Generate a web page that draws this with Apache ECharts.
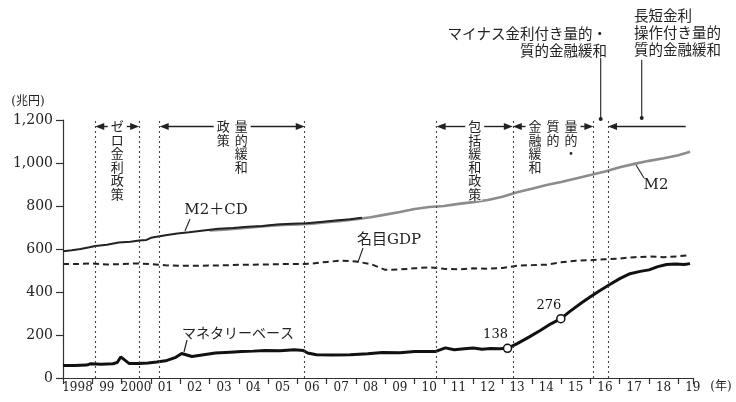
<!DOCTYPE html>
<html>
<head>
<meta charset="utf-8">
<script src="https://cdn.jsdelivr.net/npm/echarts@6/dist/echarts.min.js"></script>
<style>
  html, body { margin: 0; padding: 0; background: #fff; }
  #chart { width: 736px; height: 402px; }
</style>
</head>
<body>
<div id="chart"></div>
<script>
// ---- data: [year, trillion yen] ----
const m2cd = [
  [1998.0, 590], [1998.3, 594], [1998.6, 600], [1998.9, 608], [1999.1, 614], [1999.5, 620],
  [1999.9, 630], [2000.3, 634], [2000.6, 640], [2000.85, 642], [2001.0, 652], [2001.2, 657],
  [2001.5, 664], [2001.9, 672], [2002.3, 678], [2002.8, 686], [2003.3, 694], [2003.8, 698],
  [2004.3, 703], [2004.8, 707], [2005.3, 714], [2005.8, 718], [2006.3, 720], [2006.8, 726],
  [2007.3, 732], [2007.8, 738], [2008.2, 745]
];
const m2 = [
  [2003.0, 686], [2003.5, 690], [2004.0, 696], [2004.5, 701], [2005.0, 707], [2005.5, 712],
  [2006.0, 714], [2006.5, 718], [2007.0, 725], [2007.5, 731], [2008.0, 738], [2008.5, 748],
  [2009.0, 760], [2009.5, 772], [2010.0, 786], [2010.5, 795], [2011.0, 800], [2011.5, 810],
  [2012.0, 818], [2012.5, 828], [2013.0, 843], [2013.5, 864], [2014.0, 880], [2014.5, 898],
  [2015.0, 912], [2015.5, 928], [2016.0, 944], [2016.5, 960], [2017.0, 980], [2017.5, 996],
  [2018.0, 1010], [2018.5, 1022], [2019.0, 1036], [2019.4, 1052]
];
const nominalGdp = [
  [1998.0, 530], [1998.5, 530], [1999.0, 533], [1999.5, 528], [2000.0, 530], [2000.5, 533],
  [2001.0, 530], [2001.5, 524], [2002.0, 522], [2002.5, 522], [2003.0, 523], [2003.5, 524],
  [2004.0, 527], [2004.5, 527], [2005.0, 528], [2005.5, 530], [2006.0, 530], [2006.5, 532],
  [2007.0, 540], [2007.5, 546], [2008.0, 542], [2008.5, 530], [2009.0, 503], [2009.5, 505],
  [2010.0, 510], [2010.5, 515], [2011.0, 508], [2011.5, 505], [2012.0, 510], [2012.5, 508],
  [2013.0, 512], [2013.5, 522], [2014.0, 525], [2014.5, 527], [2015.0, 538], [2015.5, 545],
  [2016.0, 548], [2016.5, 552], [2017.0, 556], [2017.5, 562], [2018.0, 565], [2018.5, 562],
  [2019.0, 566], [2019.4, 572]
];
const monetaryBase = [
  [1998.0, 58], [1998.4, 58], [1998.8, 60], [1998.95, 66], [1999.3, 64], [1999.7, 66],
  [1999.85, 72], [1999.97, 98], [2000.1, 84], [2000.25, 68], [2000.6, 67], [2000.9, 70],
  [2001.2, 74], [2001.5, 80], [2001.85, 96], [2002.05, 114], [2002.4, 100], [2002.8, 108],
  [2003.2, 116], [2003.7, 120], [2004.1, 123], [2004.5, 125], [2004.9, 128], [2005.4, 127],
  [2005.9, 131], [2006.2, 128], [2006.35, 116], [2006.65, 108], [2007.2, 107], [2007.8, 108],
  [2008.4, 113], [2008.9, 119], [2009.5, 118], [2010.0, 123], [2010.7, 123], [2011.05, 140],
  [2011.35, 131], [2011.7, 136], [2012.0, 140], [2012.3, 134], [2012.6, 137], [2012.9, 136],
  [2013.17, 138], [2013.5, 160], [2013.9, 190], [2014.3, 222], [2014.65, 252], [2014.99, 276],
  [2015.3, 310], [2015.7, 350], [2016.0, 378], [2016.3, 405], [2016.66, 435], [2017.0, 462],
  [2017.35, 485], [2017.7, 496], [2018.0, 503], [2018.3, 518], [2018.6, 528], [2018.9, 530],
  [2019.2, 528], [2019.4, 532]
];
// monetary base at the start of QQE and at end-2014
const qqeMilestones = [[2013.17, 138], [2014.99, 276]];

// policy switch dates (fractional years)
const policyDates = [1999.1, 2000.6, 2001.3, 2006.25, 2010.75, 2013.35, 2016.1, 2016.6];
// policy periods: index pair into policyDates, vertical columns read right to left
const policySpans = [
  { from: 0, to: 1, cols: ['ゼロ金利政策'] },
  { from: 2, to: 3, cols: ['量的緩和', '政策'] },
  { from: 4, to: 5, cols: ['包括緩和政策'] },
  { from: 5, to: 6, cols: ['量的・', '質的', '金融緩和'] }
];
const negativeRateNote = ['マイナス金利付き量的・', '質的金融緩和'];
const yieldCurveNote = ['長短金利', '操作付き量的', '質的金融緩和'];

const yearTickLabels = ['1998', '99', '2000', '01', '02', '03', '04', '05', '06', '07', '08',
  '09', '10', '11', '12', '13', '14', '15', '16', '17', '18', '19'];

// ---- styling ----
const SERIF = "'DejaVu Serif', 'Noto Sans CJK JP', serif";
const JP = "'Noto Sans CJK JP', sans-serif";
const INK = '#222';

const chart = echarts.init(document.getElementById('chart'), null, { renderer: 'canvas' });

const option = {
  animation: false,
  backgroundColor: '#fff',
  grid: { left: 63, right: 43, top: 120, bottom: 24, containLabel: false, outerBoundsMode: 'none' },
  xAxis: {
    type: 'value', min: 1998, max: 2019.5, interval: 1,
    axisLine: { show: true, lineStyle: { color: '#333', width: 1.2 } },
    axisTick: { show: true, length: 6, lineStyle: { color: '#333', width: 1.2 } },
    splitLine: { show: false },
    axisLabel: {
      margin: 4,
      formatter: v => Number.isInteger(v) && yearTickLabels[v - 1998] ? '{y|' + yearTickLabels[v - 1998] + '}' : '',
      rich: { y: { padding: [0, 0, 0, 29], fontFamily: SERIF, fontSize: 12, color: INK } }
    }
  },
  yAxis: {
    type: 'value', min: 0, max: 1200, interval: 200,
    axisLine: { show: true, lineStyle: { color: '#333', width: 1.2 } },
    axisTick: { show: true, length: 7, lineStyle: { color: '#333', width: 1.2 } },
    splitLine: { show: false },
    axisLabel: {
      margin: 10, fontFamily: SERIF, fontSize: 14, color: INK,
      formatter: v => v.toLocaleString('en-US')
    }
  },
  series: [
    {
      name: 'M2', type: 'line', data: m2, symbol: 'none', z: 2,
      lineStyle: { color: '#8c8c8c', width: 2.6 },
      markLine: {
        silent: true, symbol: 'none', label: { show: false },
        lineStyle: { type: [2, 3], color: '#444', width: 1.1 },
        data: policyDates.map(d => [{ coord: [d, 0] }, { coord: [d, 1200] }])
      }
    },
    {
      name: 'M2+CD', type: 'line', data: m2cd, symbol: 'none', z: 3,
      lineStyle: { color: INK, width: 2 }
    },
    {
      name: '名目GDP', type: 'line', data: nominalGdp, symbol: 'none', z: 3,
      lineStyle: { color: INK, width: 2, type: [6, 4] }
    },
    {
      name: 'マネタリーベース', type: 'line', data: monetaryBase, symbol: 'none', z: 4,
      lineStyle: { color: '#111', width: 3 }
    },
    {
      name: 'QQE', type: 'scatter', data: qqeMilestones, z: 6,
      symbol: 'circle', symbolSize: 8,
      itemStyle: { color: '#fff', borderColor: '#111', borderWidth: 1.5, opacity: 1 },
      label: {
        show: true, position: 'top', distance: 2, offset: [-12, 0],
        formatter: p => String(p.value[1]),
        fontFamily: SERIF, fontSize: 13, color: '#111', opacity: 1
      }
    }
  ]
};
chart.setOption(option);

// ---- annotations placed from axis coordinates ----
const toPx = (x, y) => chart.convertToPixel({ gridIndex: 0 }, [x, y]);
const g = [];
const Z = 50;

function text(str, x, y, opt) {
  const o = Object.assign({ size: 14, family: JP, align: 'center', vAlign: 'middle' }, opt || {});
  const style = {
    text: str, x: x, y: y, fill: INK,
    fontSize: o.size, fontFamily: o.family,
    align: o.align, textAlign: o.align,
    verticalAlign: o.vAlign, textVerticalAlign: o.vAlign
  };
  if (o.lineHeight) style.lineHeight = o.lineHeight;
  if (o.bg) { style.backgroundColor = o.bg; style.padding = [0, 1]; }
  g.push({ type: 'text', z: Z + 2, silent: true, style: style });
}
function seg(x1, y1, x2, y2, w) {
  g.push({ type: 'line', z: Z, silent: true, shape: { x1, y1, x2, y2 }, style: { stroke: INK, lineWidth: w || 1.1 } });
}
function arrow(tail, tip, y) {
  const dir = tip > tail ? 1 : -1;
  seg(tail, y, tip - dir * 6, y, 1.4);
  g.push({
    type: 'polygon', z: Z, silent: true,
    shape: { points: [[tip, y], [tip - dir * 9, y - 3.6], [tip - dir * 9, y + 3.6]] },
    style: { fill: INK }
  });
}
function dot(x, y) {
  g.push({ type: 'circle', z: Z, silent: true, shape: { cx: x, cy: y, r: 2 }, style: { fill: INK } });
}

const topY = toPx(2000, 1200)[1];
const arrowY = topY + 6.5;
const COL_GAP = 18, ROW_H = 13.5, HALF_CHAR = 6.5;

policySpans.forEach(s => {
  const x1 = toPx(policyDates[s.from], 0)[0];
  const x2 = toPx(policyDates[s.to], 0)[0];
  const mid = (x1 + x2) / 2;
  const n = s.cols.length;
  s.cols.forEach((col, i) => {
    const cx = mid + ((n - 1) / 2 - i) * COL_GAP;
    text(col.split('').join('\n'), cx, arrowY - ROW_H / 2, {
      size: 13, vAlign: 'top', lineHeight: ROW_H, bg: '#fff'
    });
  });
  const half = ((n - 1) / 2) * COL_GAP + HALF_CHAR + 3;
  arrow(mid - half, x1, arrowY);
  arrow(mid + half, x2, arrowY);
});

// negative interest rate period (between 2016.1 and 2016.6)
const negX = toPx((policyDates[6] + policyDates[7]) / 2, 0)[0];
text(negativeRateNote[0], 607, 33, { size: 14.5, align: 'right' });
text(negativeRateNote[1], 607, 50, { size: 14.5, align: 'right' });
seg(negX, 58, negX, topY - 1, 1.1);
dot(negX, topY - 1);

// yield curve control period, open-ended
const yccX = toPx(2017.75, 0)[0];
text(yieldCurveNote[0], 634, 15, { size: 14.5, align: 'left' });
text(yieldCurveNote[1], 634, 32, { size: 14.5, align: 'left' });
text(yieldCurveNote[2], 634, 49, { size: 14.5, align: 'left' });
seg(yccX, 60, yccX, topY - 2, 1.1);
dot(yccX, topY - 2);
arrow(toPx(2019.25, 0)[0], toPx(policyDates[7], 0)[0], arrowY);

// series labels with leader lines
text('M2＋CD', 216, 210, { size: 15, family: SERIF });
seg(190, 219, 185, 231);
text('名目GDP', 389, 240, { size: 15, family: SERIF });
seg(363, 248, 358, 262);
text('マネタリーベース', 182, 333, { size: 14, align: 'left' });
seg(187, 340, 184, 352);
text('M2', 656, 185, { size: 15, family: SERIF });
seg(644, 178, 636, 165);

// unit labels
text('(兆円)', 28, 102, { size: 12, family: SERIF });
text('(年)', 721, 387, { size: 12, family: SERIF });

chart.setOption({ graphic: g });
</script>
</body>
</html>
